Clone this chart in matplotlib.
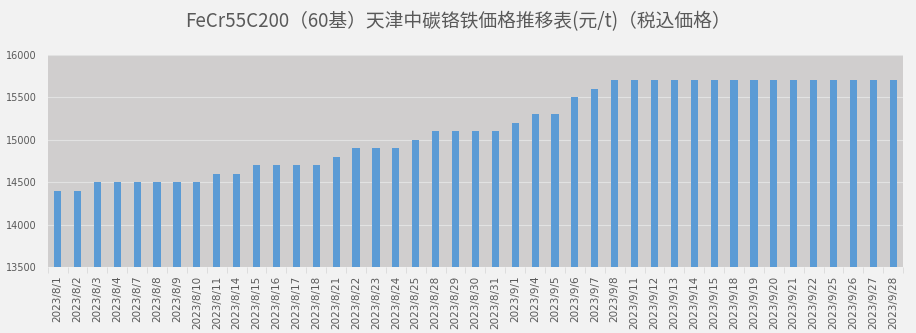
import numpy as np
import matplotlib.pyplot as plt

plt.rcParams['font.family'] = ['Noto Sans CJK JP', 'DejaVu Sans']

#======data=========#
dates = ["2023/8/1", "2023/8/2", "2023/8/3", "2023/8/4", "2023/8/7", "2023/8/8",
         "2023/8/9", "2023/8/10", "2023/8/11", "2023/8/14", "2023/8/15", "2023/8/16",
         "2023/8/17", "2023/8/18", "2023/8/21", "2023/8/22", "2023/8/23", "2023/8/24",
         "2023/8/25", "2023/8/28", "2023/8/29", "2023/8/30", "2023/8/31",
         "2023/9/1", "2023/9/4", "2023/9/5", "2023/9/6", "2023/9/7", "2023/9/8",
         "2023/9/11", "2023/9/12", "2023/9/13", "2023/9/14", "2023/9/15", "2023/9/18",
         "2023/9/19", "2023/9/20", "2023/9/21", "2023/9/22", "2023/9/25", "2023/9/26",
         "2023/9/27", "2023/9/28"]
prices = [14400, 14400, 14500, 14500, 14500, 14500,
          14500, 14500, 14600, 14600, 14700, 14700,
          14700, 14700, 14800, 14900, 14900, 14900,
          15000, 15100, 15100, 15100, 15100,
          15200, 15300, 15300, 15500, 15600, 15700,
          15700, 15700, 15700, 15700, 15700, 15700,
          15700, 15700, 15700, 15700, 15700, 15700,
          15700, 15700]
yticks = [13500, 14000, 14500, 15000, 15500, 16000]
title = "FeCr55C200（60基）天津中碳铬铁価格推移表(元/t)（税込価格）"

#=====plot==========#
fig = plt.figure(figsize=(9.16, 3.33), dpi=100, facecolor="#f2f2f2")
ax = fig.add_axes([0.052, 0.198, 0.934, 0.637])
ax.set_facecolor("#d0cece")

x = np.arange(len(dates))
ax.bar(x, prices, width=0.36, color="#5b9bd5", zorder=3)

ax.set_ylim(13500, 16000)
ax.set_xlim(-0.5, len(dates) - 0.5)
ax.set_yticks(yticks)
ax.set_yticklabels([str(v) for v in yticks], fontsize=7, color="#595959",
                   family="DejaVu Sans")
ax.grid(axis="y", color="#e2e2e2", linewidth=0.8, zorder=1)

ax.set_xticks(x)
ax.set_xticklabels(dates, rotation=90, fontsize=7.5, color="#595959",
                   family="DejaVu Sans")
ax.set_xticks(np.arange(-0.5, len(dates), 1), minor=True)
ax.tick_params(axis="x", which="major", length=0, pad=6)
ax.tick_params(axis="x", which="minor", length=4, color="#d9d9d9")
ax.tick_params(axis="y", length=0, pad=8)

for s in ax.spines.values():
    s.set_visible(False)

fig.text(0.5, 0.935, title, ha="center", va="center", fontsize=13.5, color="#595959")

plt.savefig("out.png", dpi=100, facecolor=fig.get_facecolor())
